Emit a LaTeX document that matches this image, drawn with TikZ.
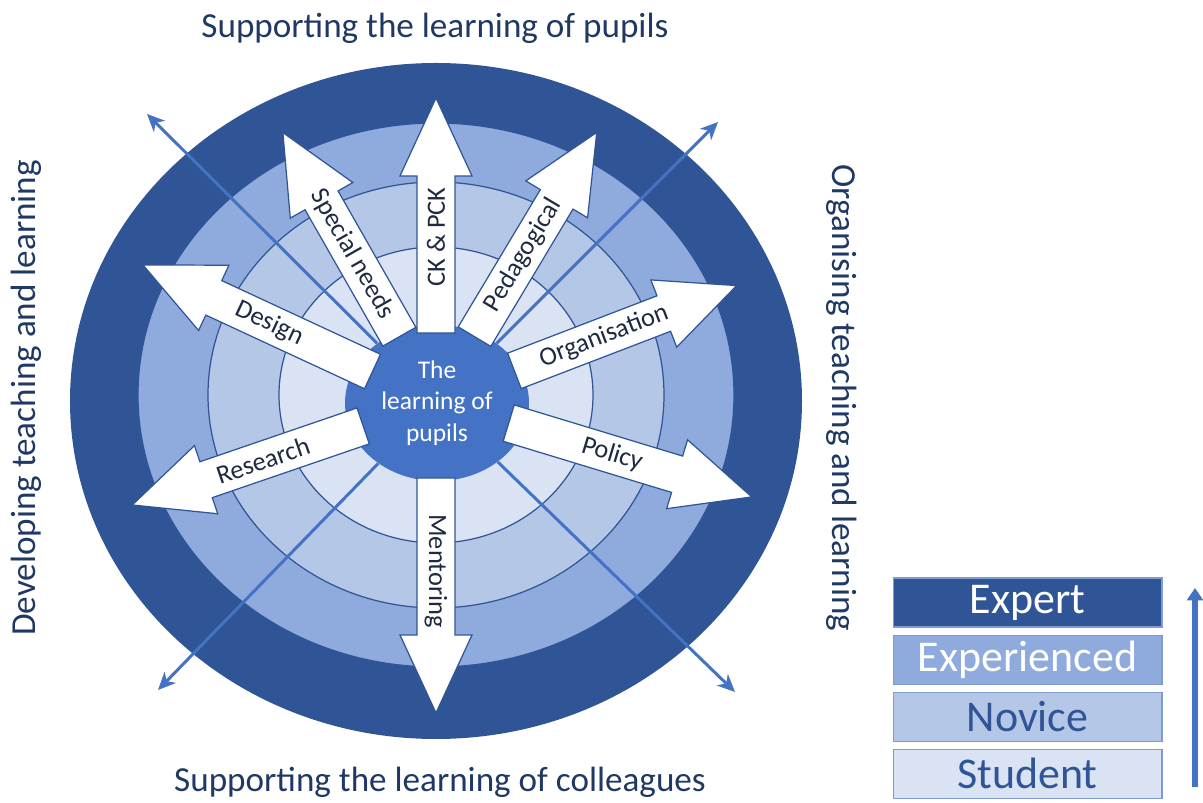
\documentclass[tikz,border=0pt]{standalone}
\usepackage{fontspec}
\setmainfont{Carlito}
\usepackage{tikz}
\usetikzlibrary{positioning}
\usetikzlibrary{arrows.meta}
\usetikzlibrary{shapes.geometric}

\definecolor{expertblue}{HTML}{2F5597}
\definecolor{expblue}{HTML}{8FAADC}
\definecolor{novblue}{HTML}{B4C7E7}
\definecolor{studblue}{HTML}{DAE3F3}
\definecolor{coreblue}{HTML}{4472C4}
\definecolor{navy}{HTML}{1F3864}
\definecolor{labeltext}{HTML}{1F2A40}
\definecolor{boxedge}{HTML}{7F9BD0}

\begin{document}
\begin{tikzpicture}[x=0.02cm, y=0.02cm]
            \tikzstyle{ring}=[draw=expertblue, line width=0.7pt];
            \tikzstyle{block_arrow}=[fill=white, draw=expertblue, line width=0.7pt, line join=miter];
            \tikzstyle{arm_label}=[text=labeltext, font=\fontsize{15}{17}\selectfont, inner sep=0pt];
            \tikzstyle{side_label}=[text=navy, font=\fontsize{20}{24}\selectfont];
            \tikzstyle{ray}=[draw=coreblue, line width=1.7pt, -{Stealth[length=10pt, width=9pt, inset=3pt]}];
            \tikzstyle{lvl_box}=[rectangle, draw=boxedge, line width=0.6pt, minimum width=5.38cm, minimum height=0.98cm, inner sep=0pt, font=\fontsize{25}{30}\selectfont];

            \useasboundingbox (-436,-402) rectangle (767,401);

            % Rings
            \fill[expertblue] (0,0) ellipse [x radius=366, y radius=338];
            \filldraw[ring, fill=expblue] (0,6) ellipse [x radius=298, y radius=272];
            \filldraw[ring, fill=novblue] (0,6) ellipse [x radius=228, y radius=213];
            \filldraw[ring, fill=studblue] (0,6) ellipse [x radius=157, y radius=148];

            % Centre
            \node(core) [ellipse, fill=coreblue, text=white, align=center, minimum width=3.68cm, minimum height=3.12cm, inner sep=0pt, font=\fontsize{14.5}{18}\selectfont] at (1,-2) {The\\learning of\\pupils};

            % Diagonal rays
            \coordinate(ray_nw) at (-289,287);
            \coordinate(ray_ne) at (282,279);
            \coordinate(ray_sw) at (-278,-289);
            \coordinate(ray_se) at (299,-291);
            \draw[ray] (core) -- (ray_nw);
            \draw[ray] (core) -- (ray_ne);
            \draw[ray] (core) -- (ray_sw);
            \draw[ray] (core) -- (ray_se);

            % Arms
            \filldraw[block_arrow, rotate=90] (68,-19) -- (225,-19) -- (225,-36) -- (303,0) -- (225,36) -- (225,19) -- (68,19) -- cycle;
            \filldraw[block_arrow, rotate=119.7] (74,-19) -- (231,-19) -- (231,-36) -- (309,0) -- (231,36) -- (231,19) -- (74,19) -- cycle;
            \filldraw[block_arrow, rotate=59.1] (75,-19) -- (235,-19) -- (235,-36) -- (313,0) -- (235,36) -- (235,19) -- (75,19) -- cycle;
            \filldraw[block_arrow, rotate=21] (84,-19) -- (244,-19) -- (244,-36) -- (322,0) -- (244,36) -- (244,19) -- (84,19) -- cycle;
            \filldraw[block_arrow, rotate=-16.9] (76,-19) -- (252,-19) -- (252,-36) -- (330,0) -- (252,36) -- (252,19) -- (76,19) -- cycle;
            \filldraw[block_arrow, rotate=270] (77,-19) -- (234,-19) -- (234,-36) -- (312,0) -- (234,36) -- (234,19) -- (77,19) -- cycle;
            \filldraw[block_arrow, rotate=198.9] (77,-19) -- (243,-19) -- (243,-36) -- (321,0) -- (243,36) -- (243,19) -- (77,19) -- cycle;
            \filldraw[block_arrow, rotate=155.1] (70,-19) -- (245,-19) -- (245,-36) -- (323,0) -- (245,36) -- (245,19) -- (70,19) -- cycle;

            \node(ck_label) [arm_label, rotate=90] at (90:164) {CK \& PCK};
            \node(needs_label) [arm_label, rotate=-60.3] at (119.7:169) {Special needs};
            \node(pedagogy_label) [arm_label, rotate=59.1] at (59.1:170) {Pedagogical};
            \node(organisation_label) [arm_label, rotate=21] at (21:180) {Organisation};
            \node(policy_label) [arm_label, rotate=-16.9] at (-16.9:184) {Policy};
            \node(mentoring_label) [arm_label, rotate=-90] at (270:170) {Mentoring};
            \node(research_label) [arm_label, rotate=18.9] at (198.9:183) {Research};
            \node(design_label) [arm_label, rotate=-24.9] at (155.1:184) {Design};

            % Side texts
            \node(top_label) [side_label] at (-1,373) {Supporting the learning of pupils};
            \node(bottom_label) [side_label] at (4,-381) {Supporting the learning of colleagues};
            \node(left_label) [side_label, rotate=90] at (-410,3) {Developing teaching and learning};
            \node(right_label) [side_label, rotate=-90] at (406,3) {Organising teaching and learning};

            % Levels
            \node(expert) [lvl_box, fill=expertblue, text=white] at (591.5,-201.5) {Expert};
            \node(experienced) [lvl_box, fill=expblue, text=white, below = 0.14cm of expert] {Experienced};
            \node(novice) [lvl_box, fill=novblue, text=expertblue, below = 0.14cm of experienced] {Novice};
            \node(student) [lvl_box, fill=studblue, text=expertblue, below = 0.14cm of novice] {Student};

            \coordinate(lvl_low) at (759,-386);
            \coordinate(lvl_high) at (759,-187);
            \draw[draw=coreblue, line width=3pt, -{Triangle[length=7pt, width=9pt]}] (lvl_low) -- (lvl_high);
\end{tikzpicture}
\end{document}
